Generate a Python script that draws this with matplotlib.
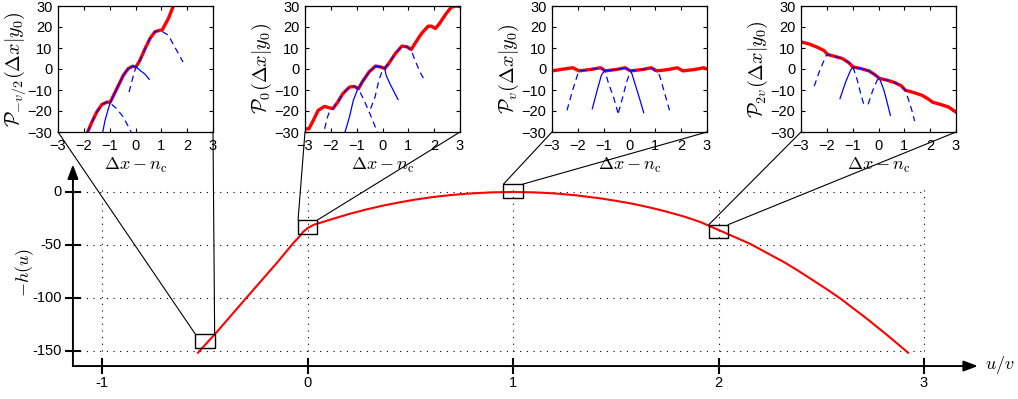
import matplotlib
matplotlib.use("Agg")
from matplotlib import pyplot as plt
from matplotlib.patches import Rectangle, ConnectionPatch

plt.rcParams["font.family"] = ["Liberation Sans", "DejaVu Sans"]
plt.rcParams["mathtext.fontset"] = "cm"

# main curve: -h(u) against u/v
u_vals = [-0.534, -0.444, -0.298, -0.152, -0.071, -0.040, -0.022, 0.0, 0.027, 0.125, 0.2,
          0.287, 0.37, 0.449, 0.52, 0.6, 0.7, 0.8, 0.9, 1.0, 1.1, 1.2, 1.3, 1.422, 1.5,
          1.585, 1.67, 1.748, 1.83, 1.91, 2.0, 2.08, 2.153, 2.23, 2.315, 2.38, 2.445, 2.52,
          2.592, 2.655, 2.72, 2.82, 2.923]
mh_vals = [-151.6, -132.4, -99.7, -67.3, -48.4, -42.0, -37.6, -34.0, -31.1, -25.2, -20.8,
           -16.4, -12.7, -9.7, -7.3, -5.0, -2.8, -1.26, -0.32, 0.0, -0.33, -1.3, -3.0, -5.9,
           -8.3, -11.2, -14.8, -18.6, -23.0, -28.2, -35.8, -42.6, -48.8, -56.9, -65.7, -73.3,
           -81.4, -90.8, -100.3, -109.6, -119.2, -134.8, -151.6]

main_xticks = [-1, 0, 1, 2, 3]
main_yticks = [0, -50, -100, -150]

# zoom boxes on the main curve
zoom_u = [-0.5, 0.0, 1.0, 2.0]
zoom_h = [-140.6, -33.0, 0.9, -37.3]

inset_ylabels = [
    r"$\mathcal{P}_{-v/2}(\mathit{\Delta} x|y_0)$",
    r"$\mathcal{P}_0(\mathit{\Delta} x|y_0)$",
    r"$\mathcal{P}_v(\mathit{\Delta} x|y_0)$",
    r"$\mathcal{P}_{2v}(\mathit{\Delta} x|y_0)$",
]
inset_xlabel = r"$\mathit{\Delta} x - n_\mathrm{c}$"
inset_ticks_x = [-3, -2, -1, 0, 1, 2, 3]
inset_ticks_y = [-30, -20, -10, 0, 10, 20, 30]

# inset 1: P_{-v/2}
p1_red_x = [-1.86, -1.69, -1.50, -1.30, -1.11, -0.98, -0.85, -0.66, -0.47, -0.28, -0.11,
            0.02, 0.17, 0.37, 0.56, 0.75, 0.95, 1.03, 1.27, 1.48]
p1_red_y = [-30.2, -25.3, -20.5, -16.9, -15.8, -15.8, -12.6, -7.8, -3.0, 0.2, 1.3,
            1.0, 4.1, 9.7, 14.5, 17.7, 18.5, 18.5, 24.0, 30.4]
p1_blue = [
    ([-1.86, -1.69, -1.50, -1.30, -1.11, -0.98, -0.73, -0.47, -0.30, -0.17],
     [-30.2, -25.3, -20.5, -16.9, -15.8, -16.2, -18.9, -22.9, -26.9, -30.0], "--"),
    ([-1.27, -1.18, -1.07, -0.98, -0.85, -0.66, -0.47, -0.28, -0.11, 0.02, 0.17, 0.37, 0.53],
     [-30.1, -24.5, -19.7, -16.2, -12.6, -7.8, -3.0, 0.2, 1.3, 1.0, -0.6, -2.5, -4.9], "-"),
    ([-0.25, -0.15, -0.04, 0.02, 0.17, 0.37, 0.56, 0.75, 0.95, 1.27, 1.52, 1.84],
     [-11.0, -6.2, -1.4, 1.0, 4.1, 9.7, 14.5, 17.7, 18.5, 16.1, 10.5, 3.3], "--"),
]

# inset 2: P_0
p2_red_x = [-3.0, -2.85, -2.68, -2.49, -2.24, -2.05, -1.92, -1.73, -1.54, -1.28, -1.09,
            -0.93, -0.78, -0.52, -0.27, -0.08, 0.09, 0.24, 0.50, 0.75, 0.94, 1.11, 1.26,
            1.51, 1.77, 1.89, 2.05, 2.21, 2.47, 2.66, 2.85, 3.0]
p2_red_y = [-28.5, -28.5, -24.5, -19.7, -17.8, -18.5, -18.9, -15.7, -11.8, -8.6, -8.3,
            -9.4, -6.1, -1.4, 1.4, 1.0, 0.2, 2.6, 7.4, 10.9, 10.6, 9.3, 12.2,
            16.9, 20.4, 20.4, 19.3, 21.7, 26.5, 29.4, 30.0, 29.7]
p2_blue = [
    ([-2.24, -2.15, -2.05, -1.92, -1.73, -1.54, -1.28, -1.09, -0.93, -0.71, -0.46, -0.20],
     [-28.5, -23.7, -20.1, -18.9, -15.7, -11.8, -8.6, -8.3, -9.4, -15.0, -22.1, -30.0], "--"),
    ([-1.45, -1.28, -1.13, -0.97, -0.78, -0.52, -0.27, -0.08, 0.09, 0.14, 0.30, 0.60],
     [-30.0, -22.9, -15.0, -9.9, -6.1, -1.4, 1.4, 1.0, 0.2, -3.0, -7.3, -14.5], "-"),
    ([-0.46, -0.29, -0.14, 0.01, 0.24, 0.50, 0.75, 0.94, 1.11, 1.26, 1.45, 1.66],
     [-18.9, -13.4, -5.4, -0.2, 2.6, 7.4, 10.9, 10.6, 9.0, 4.1, -1.4, -6.1], "--"),
]

# inset 3: P_v
p3_red_x = [-3.0, -2.64, -2.2, -1.95, -1.5, -1.12, -0.93, -0.49, -0.17, 0.04, 0.53, 0.84,
            1.06, 1.53, 1.85, 2.07, 2.55, 2.87, 3.0]
p3_red_y = [-0.9, -0.2, 0.6, -0.9, -0.2, 0.6, -0.9, -0.2, 0.6, -0.9, -0.2, 0.6,
            -0.9, -0.2, 0.6, -0.9, -0.2, 0.6, 0.0]
p3_blue = [
    ([-2.42, -2.2, -2.04, -1.95, -1.5, -1.12, -0.95, -0.81, -0.62, -0.45],
     [-19.7, -10.1, -3.8, -0.9, -0.2, 0.6, -1.0, -6.9, -13.3, -20.8], "--"),
    ([-1.44, -1.25, -1.09, -0.97, -0.49, -0.17, 0.04, 0.10, 0.25, 0.40, 0.55],
     [-18.9, -10.1, -3.0, -0.9, -0.2, 0.6, -0.9, -2.5, -8.5, -14.5, -20.8], "-"),
    ([-0.43, -0.26, -0.11, 0.04, 0.53, 0.84, 1.16, 1.31, 1.55],
     [-20.8, -13.3, -6.1, -0.9, -0.2, 0.6, -2.9, -9.3, -19.7], "--"),
]

# inset 4: P_2v
p4_red_x = [-3.0, -2.68, -2.36, -2.10, -1.97, -1.72, -1.40, -1.14, -0.99, -0.69, -0.37,
            -0.12, 0.04, 0.33, 0.65, 0.88, 1.04, 1.36, 1.68, 1.94, 2.09, 2.38, 2.71, 3.0]
p4_red_y = [12.9, 11.9, 10.3, 8.7, 6.9, 6.1, 5.0, 2.9, 1.0, 0.2, -0.9,
            -2.9, -4.5, -5.3, -6.6, -8.0, -10.1, -11.2, -12.5, -14.4, -15.8, -16.8, -18.1, -20.5]
p4_blue = [
    ([-2.49, -2.27, -2.04, -1.97, -1.72, -1.40, -1.14, -0.99, -0.82, -0.69, -0.56],
     [-8.2, -0.6, 6.1, 6.9, 6.1, 5.0, 2.9, 1.0, -5.3, -11.7, -17.3], "--"),
    ([-1.49, -1.27, -1.08, -0.99, -0.69, -0.37, -0.12, 0.04, 0.21, 0.33, 0.46],
     [-14.1, -6.1, -0.6, 1.0, 0.2, -0.9, -2.9, -4.5, -10.1, -15.7, -22.1], "-"),
    ([-0.40, -0.22, -0.05, 0.04, 0.33, 0.65, 0.88, 1.04, 1.17, 1.29, 1.40],
     [-16.8, -10.1, -5.3, -4.5, -5.3, -6.6, -8.0, -10.1, -14.9, -19.7, -24.8], "--"),
]

insets = [
    (p1_red_x, p1_red_y, p1_blue),
    (p2_red_x, p2_red_y, p2_blue),
    (p3_red_x, p3_red_y, p3_blue),
    (p4_red_x, p4_red_y, p4_blue),
]

# layout (pixels)
W, H = 1018, 399
u0_px, px_per_u = 307.7, 205.4
h0_px, px_per_h = 192.0, 1.06
axis_u = -1.143
axis_h = -164.2
arrow_u = 3.263
arrow_h = 26.0
box_w, box_h = 0.094, 13.0
inset_left_px = [58, 305, 552, 801]
inset_top_px, inset_w_px, inset_h_px = 6, 155, 126

fig = plt.figure(figsize=(W / 100, H / 100), dpi=100)
ax = fig.add_axes([0, 0, 1, 1])
ax.set_xlim(-u0_px / px_per_u, (W - u0_px) / px_per_u)
ax.set_ylim((h0_px - H) / px_per_h, h0_px / px_per_h)
ax.axis("off")

# dotted grid
for t in main_yticks:
    ax.plot([axis_u, main_xticks[-1]], [t, t], color="k", lw=0.8, ls=(0, (1, 5)))
for t in main_xticks:
    ax.plot([t, t], [main_yticks[-1], 7], color="k", lw=0.8, ls=(0, (1, 5)))

# axes with arrows
arrow = dict(arrowstyle="-|>,head_length=0.85,head_width=0.32", lw=1.4, color="k",
             shrinkA=0, shrinkB=0, mutation_scale=10)
ax.annotate("", xy=(arrow_u, axis_h), xytext=(axis_u, axis_h), arrowprops=arrow)
ax.annotate("", xy=(axis_u, arrow_h), xytext=(axis_u, axis_h), arrowprops=arrow)

ax.plot(main_xticks, [axis_h] * len(main_xticks), ls="none", marker="|", ms=12, mew=1.5, color="k")
ax.plot([axis_u] * len(main_yticks), main_yticks, ls="none", marker="_", ms=12, mew=1.5, color="k")
for t in main_xticks:
    ax.annotate(str(t), (t, axis_h), xytext=(0, -12.5), textcoords="offset points",
                ha="center", va="center", fontsize=10.5)
for t in main_yticks:
    ax.annotate(str(t), (axis_u, t), xytext=(-8, 0), textcoords="offset points",
                ha="right", va="center", fontsize=10.5)
ax.text(-1.376, -76.4, r"$-h(u)$", rotation=90, ha="center", va="center", fontsize=13)
ax.annotate(r"$u/v$", (arrow_u, axis_h), xytext=(5, 1), textcoords="offset points",
            ha="left", va="center", fontsize=13)

ax.plot(u_vals, mh_vals, color="red", lw=1.5)

for uc, hc in zip(zoom_u, zoom_h):
    ax.add_patch(Rectangle((uc - box_w / 2, hc - box_h / 2), box_w, box_h,
                           fill=False, ec="k", lw=1.0, zorder=5))

for i, (rx, ry, blues) in enumerate(insets):
    iax = fig.add_axes([inset_left_px[i] / W, (H - inset_top_px - inset_h_px) / H,
                        inset_w_px / W, inset_h_px / H])
    iax.plot(rx, ry, color="red", lw=2.4)
    for bx, by, ls in blues:
        if ls == "--":
            iax.plot(bx, by, color="blue", lw=0.9, ls=(0, (5, 3.5)))
        else:
            iax.plot(bx, by, color="blue", lw=0.9)
    iax.set_xlim(-3, 3)
    iax.set_ylim(-30, 30)
    iax.set_xticks(inset_ticks_x)
    iax.set_yticks(inset_ticks_y)
    iax.tick_params(direction="in", top=True, right=True, length=3, width=0.8,
                    labelsize=10.5, pad=4)
    iax.tick_params(axis="x", pad=5)
    for s in iax.spines.values():
        s.set_linewidth(0.9)
    iax.set_ylabel(inset_ylabels[i], fontsize=14.5, va="center")
    iax.yaxis.set_label_coords(-43 / inset_w_px, 0.5)
    iax.set_xlabel(inset_xlabel, fontsize=13, va="center")
    iax.xaxis.set_label_coords(0.5, -33 / inset_h_px)

    uc, hc = zoom_u[i], zoom_h[i]
    for xa, xb in [(0, uc - box_w / 2), (1, uc + box_w / 2)]:
        con = ConnectionPatch(xyA=(xa, 0), coordsA="axes fraction", axesA=iax,
                              xyB=(xb, hc + box_h / 2), coordsB="data", axesB=ax,
                              color="k", lw=0.8)
        fig.add_artist(con)

fig.savefig("out.png", dpi=100)
